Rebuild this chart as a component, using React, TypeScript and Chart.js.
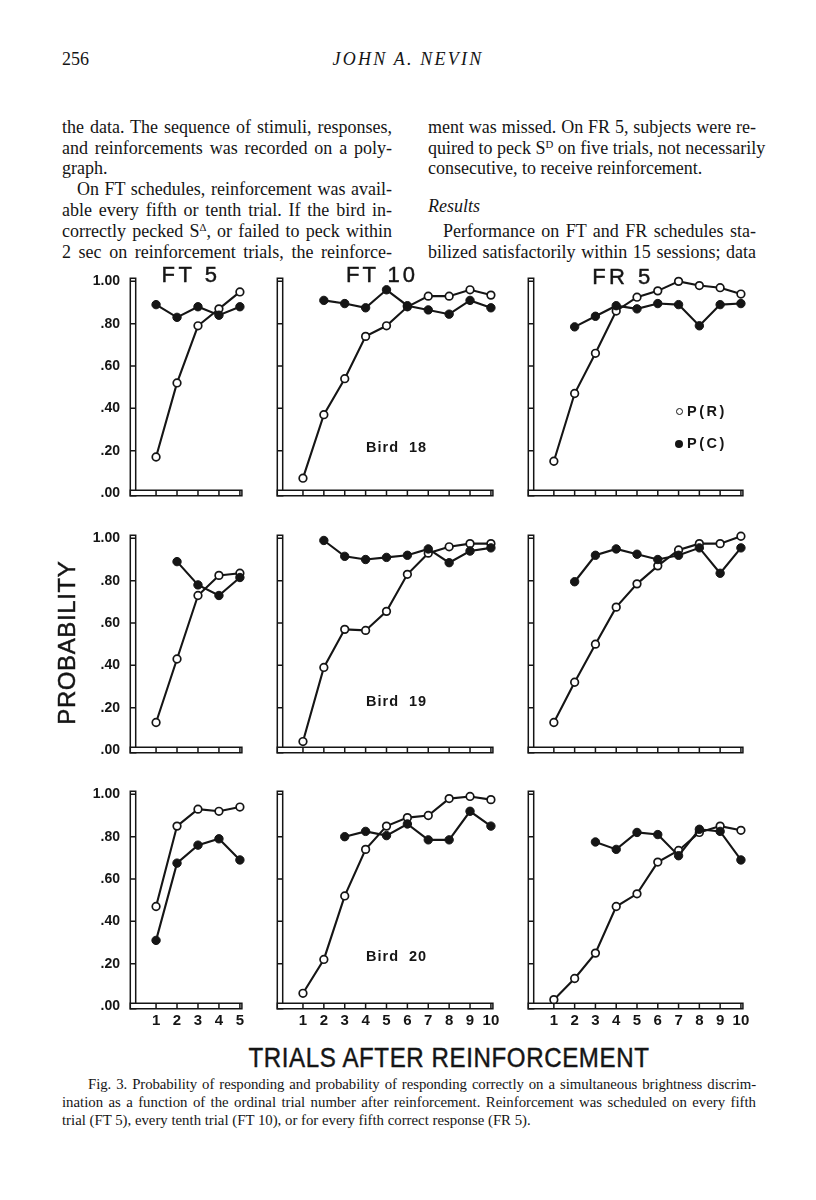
import React, { useEffect, useRef } from 'react';
import { Chart, registerables } from 'chart.js';

Chart.register(...registerables);

// ---------------- DATA ----------------
const trials5 = [1, 2, 3, 4, 5];
const trials10 = [1, 2, 3, 4, 5, 6, 7, 8, 9, 10];
const yTickValues = [0, 0.2, 0.4, 0.6, 0.8, 1.0];
const yTickLabels = ['.00', '.20', '.40', '.60', '.80', '1.00'];
const scheduleTitles = ['FT 5', 'FT 10', 'FR 5'];
const birdLabels = ['Bird 18', 'Bird 19', 'Bird 20'];
const seriesNames = ['P(R)', 'P(C)'];

// Bird 18
const b18_ft5_PR = [0.17, 0.52, 0.79, 0.87, 0.95];
const b18_ft5_PC = [0.89, 0.83, 0.88, 0.84, 0.88];
const b18_ft10_PR = [0.07, 0.37, 0.54, 0.74, 0.79, 0.88, 0.93, 0.93, 0.96, 0.935];
const b18_ft10_PC = [null, 0.91, 0.895, 0.875, 0.96, 0.885, 0.865, 0.845, 0.91, 0.875];
const b18_fr5_PR = [0.15, 0.47, 0.66, 0.86, 0.925, 0.955, 1.0, 0.98, 0.97, 0.94];
const b18_fr5_PC = [null, 0.785, 0.835, 0.885, 0.87, 0.895, 0.89, 0.79, 0.89, 0.895];
// Bird 19
const b19_ft5_PR = [0.13, 0.43, 0.73, 0.825, 0.835];
const b19_ft5_PC = [null, 0.89, 0.78, 0.73, 0.815];
const b19_ft10_PR = [0.04, 0.39, 0.57, 0.565, 0.655, 0.83, 0.93, 0.96, 0.975, 0.975];
const b19_ft10_PC = [null, 0.99, 0.915, 0.9, 0.91, 0.92, 0.95, 0.885, 0.94, 0.955];
const b19_fr5_PR = [0.13, 0.32, 0.5, 0.675, 0.785, 0.87, 0.945, 0.975, 0.975, 1.01];
const b19_fr5_PC = [null, 0.795, 0.92, 0.95, 0.925, 0.9, 0.92, 0.955, 0.835, 0.955];
// Bird 20
const b20_ft5_PR = [0.47, 0.85, 0.93, 0.92, 0.94];
const b20_ft5_PC = [0.31, 0.675, 0.76, 0.79, 0.69];
const b20_ft10_PR = [0.06, 0.22, 0.52, 0.74, 0.85, 0.89, 0.9, 0.98, 0.99, 0.975];
const b20_ft10_PC = [null, null, 0.8, 0.825, 0.805, 0.86, 0.785, 0.785, 0.92, 0.85];
const b20_fr5_PR = [0.03, 0.13, 0.25, 0.47, 0.53, 0.68, 0.735, 0.82, 0.85, 0.83];
const b20_fr5_PC = [null, null, 0.775, 0.74, 0.82, 0.81, 0.71, 0.835, 0.825, 0.69];

type Panel = { row: number; col: number; trials: number[]; pr: (number | null)[]; pc: (number | null)[] };

const panels: Panel[] = [
  { row: 0, col: 0, trials: trials5, pr: b18_ft5_PR, pc: b18_ft5_PC },
  { row: 0, col: 1, trials: trials10, pr: b18_ft10_PR, pc: b18_ft10_PC },
  { row: 0, col: 2, trials: trials10, pr: b18_fr5_PR, pc: b18_fr5_PC },
  { row: 1, col: 0, trials: trials5, pr: b19_ft5_PR, pc: b19_ft5_PC },
  { row: 1, col: 1, trials: trials10, pr: b19_ft10_PR, pc: b19_ft10_PC },
  { row: 1, col: 2, trials: trials10, pr: b19_fr5_PR, pc: b19_fr5_PC },
  { row: 2, col: 0, trials: trials5, pr: b20_ft5_PR, pc: b20_ft5_PC },
  { row: 2, col: 1, trials: trials10, pr: b20_ft10_PR, pc: b20_ft10_PC },
  { row: 2, col: 2, trials: trials10, pr: b20_fr5_PR, pc: b20_fr5_PC },
];

// ---------------- LAYOUT ----------------
const COL_GEOM = [
  { x0: 135, ppu: 21 },
  { x0: 282.4, ppu: 20.9 },
  { x0: 533.5, ppu: 20.8 },
];
const ROW_Y0 = [493, 750, 1006.5];
const PPU_Y = 212;
const Y_MAX = 1.03;
const X_PAD = 0.1;
const YW = 50;
const XH = 30;
const PADT = 12;
const PADR = 16;
const INK = '#151515';
const SANS = '"Liberation Sans", Arial, sans-serif';
const SERIF = '"Liberation Serif", "Times New Roman", serif';

const axisBars = {
  id: 'axisBars',
  beforeDatasetsDraw(chart: any, _args: any, opts: any) {
    const { ctx, chartArea, scales } = chart;
    const x = scales.x;
    const y = scales.y;
    const n = opts.n as number;
    const L = chartArea.left;
    const B = y.getPixelForValue(0);
    const T = y.getPixelForValue(1.015);
    const R = x.getPixelForValue(n) + 2;
    const hw = 2.7;
    ctx.save();
    ctx.lineWidth = 1.5;
    ctx.strokeStyle = INK;
    ctx.fillStyle = '#fff';
    ctx.beginPath();
    ctx.rect(L - hw, T, 2 * hw, B + hw - T);
    ctx.fill();
    ctx.stroke();
    ctx.beginPath();
    ctx.rect(L - hw, B - hw, R - (L - hw), 2 * hw);
    ctx.fill();
    ctx.stroke();
    ctx.beginPath();
    for (const v of yTickValues) {
      if (v === 0) continue;
      const py = y.getPixelForValue(v);
      ctx.moveTo(L - hw, py);
      ctx.lineTo(L + hw, py);
    }
    for (let t = 1; t <= n; t++) {
      const px = x.getPixelForValue(t);
      ctx.moveTo(px, B - hw);
      ctx.lineTo(px, B + hw);
    }
    ctx.stroke();
    ctx.restore();
  },
};

function PanelChart({ panel }: { panel: Panel }) {
  const ref = useRef<HTMLCanvasElement>(null);
  const n = panel.trials.length;
  const g = COL_GEOM[panel.col];
  const plotLeft = Math.round(g.x0 - X_PAD * g.ppu);
  const plotW = Math.round((n + 2 * X_PAD) * g.ppu);
  const plotH = Math.round(Y_MAX * PPU_Y);
  const plotTop = Math.round(ROW_Y0[panel.row] - Y_MAX * PPU_Y);
  const left = plotLeft - YW;
  const top = plotTop - PADT;
  const width = YW + plotW + PADR;
  const height = PADT + plotH + XH;

  useEffect(() => {
    if (!ref.current) return;
    const mk = (vals: (number | null)[]) => panel.trials.map((t, i) => ({ x: t, y: vals[i] }));
    const chart = new Chart(ref.current, {
      type: 'line',
      data: {
        datasets: [
          {
            label: seriesNames[1],
            data: mk(panel.pc) as any,
            borderColor: INK,
            borderWidth: 2.1,
            pointRadius: 4.2,
            pointBackgroundColor: INK,
            pointBorderColor: INK,
            pointBorderWidth: 1,
            tension: 0,
            clip: false as any,
          },
          {
            label: seriesNames[0],
            data: mk(panel.pr) as any,
            borderColor: INK,
            borderWidth: 2.1,
            pointRadius: 3.8,
            pointBackgroundColor: '#fff',
            pointBorderColor: INK,
            pointBorderWidth: 1.7,
            tension: 0,
            clip: false as any,
          },
        ],
      },
      options: {
        responsive: false,
        devicePixelRatio: 1,
        animation: false,
        events: [],
        layout: { padding: { top: PADT, right: PADR, left: 0, bottom: 0 }, autoPadding: false } as any,
        plugins: {
          legend: { display: false },
          tooltip: { enabled: false },
          axisBars: { n },
        } as any,
        scales: {
          x: {
            type: 'linear',
            min: -X_PAD,
            max: n + X_PAD,
            grid: { display: false, drawTicks: false },
            border: { display: false },
            afterBuildTicks: (s: any) => {
              s.ticks = panel.trials.map((v) => ({ value: v }));
            },
            afterFit: (s: any) => {
              s.height = XH;
              s.paddingLeft = 0;
              s.paddingRight = 0;
              s.paddingTop = 0;
              s.paddingBottom = 0;
            },
            ticks: {
              display: panel.row === 2,
              autoSkip: false,
              maxRotation: 0,
              padding: 6,
              color: INK,
              font: { family: SANS, size: 15, weight: 'bold' },
              callback: (v: any) => String(v),
            },
          },
          y: {
            type: 'linear',
            min: 0,
            max: Y_MAX,
            grid: { display: false, drawTicks: false },
            border: { display: false },
            afterBuildTicks: (s: any) => {
              s.ticks = yTickValues.map((v) => ({ value: v }));
            },
            afterFit: (s: any) => {
              s.width = YW;
              s.paddingLeft = 0;
              s.paddingRight = 0;
              s.paddingTop = 0;
              s.paddingBottom = 0;
            },
            ticks: {
              display: panel.col === 0,
              padding: 13,
              color: INK,
              font: { family: SANS, size: 14, weight: 'bold' },
              callback: (_v: any, i: number) => yTickLabels[i],
            },
          },
        } as any,
      },
      plugins: [axisBars as any],
    });
    return () => chart.destroy();
  }, []);

  return (
    <canvas
      ref={ref}
      width={width}
      height={height}
      style={{ position: 'absolute', left, top, width, height }}
    />
  );
}

// ---------------- TEXT ----------------
type TxtProps = {
  x: number;
  base: number;
  fs: number;
  family?: string;
  w?: number;
  align?: 'left' | 'center' | 'justify';
  style?: React.CSSProperties;
  children: React.ReactNode;
};

function Txt({ x, base, fs, family = SERIF, w, align = 'left', style = {}, children }: TxtProps) {
  const top = base - 0.84 * fs;
  const left = align === 'center' && w ? x - w / 2 : x;
  const extra: React.CSSProperties =
    align === 'justify' ? { textAlign: 'justify', textAlignLast: 'justify' as any } : { textAlign: align as any };
  return (
    <div
      style={{
        position: 'absolute',
        left,
        top,
        width: w,
        fontSize: fs,
        lineHeight: `${fs}px`,
        fontFamily: family,
        whiteSpace: 'nowrap',
        color: INK,
        ...extra,
        ...style,
      }}
    >
      {children}
    </div>
  );
}

const Sup = ({ children }: { children: React.ReactNode }) => (
  <span style={{ fontSize: '0.6em', verticalAlign: '0.6em', lineHeight: 0 }}>{children}</span>
);

const LEFT_X = 62;
const RIGHT_X = 428;
const COL_W = 330;
const BODY_FS = 18;
const CAP_FS = 14.8;
const bodyBase = [133, 154, 174.5, 195.5, 216, 237, 258];
const heavy = { WebkitTextStroke: '0.45px #151515' } as React.CSSProperties;

export default function App() {
  return (
    <div
      style={{
        position: 'absolute',
        left: 0,
        top: 0,
        width: 816,
        height: 1200,
        background: '#fff',
        overflow: 'hidden',
      }}
    >
      {/* running head */}
      <Txt x={62} base={65} fs={18}>256</Txt>
      <Txt x={408} base={65} fs={18} w={300} align="center" style={{ fontStyle: 'italic', letterSpacing: 2.2 }}>
        JOHN A. NEVIN
      </Txt>

      {/* left column */}
      <Txt x={LEFT_X} base={bodyBase[0]} fs={BODY_FS} w={COL_W} align="justify">
        the data. The sequence of stimuli, responses,
      </Txt>
      <Txt x={LEFT_X} base={bodyBase[1]} fs={BODY_FS} w={COL_W} align="justify">
        and reinforcements was recorded on a poly-
      </Txt>
      <Txt x={LEFT_X} base={bodyBase[2]} fs={BODY_FS}>graph.</Txt>
      <Txt x={LEFT_X + 15} base={bodyBase[3]} fs={BODY_FS} w={COL_W - 15} align="justify">
        On FT schedules, reinforcement was avail-
      </Txt>
      <Txt x={LEFT_X} base={bodyBase[4]} fs={BODY_FS} w={COL_W} align="justify">
        able every fifth or tenth trial. If the bird in-
      </Txt>
      <Txt x={LEFT_X} base={bodyBase[5]} fs={BODY_FS} w={COL_W} align="justify">
        correctly pecked S<Sup>Δ</Sup>, or failed to peck within
      </Txt>
      <Txt x={LEFT_X} base={bodyBase[6]} fs={BODY_FS} w={COL_W} align="justify">
        2 sec on reinforcement trials, the reinforce-
      </Txt>

      {/* right column */}
      <Txt x={RIGHT_X} base={bodyBase[0]} fs={BODY_FS} w={328} align="justify">
        ment was missed. On FR 5, subjects were re-
      </Txt>
      <Txt x={RIGHT_X} base={bodyBase[1]} fs={BODY_FS} w={328} align="justify">
        quired to peck S<Sup>D</Sup> on five trials, not necessarily
      </Txt>
      <Txt x={RIGHT_X} base={bodyBase[2]} fs={BODY_FS}>consecutive, to receive reinforcement.</Txt>
      <Txt x={RIGHT_X} base={212} fs={BODY_FS} style={{ fontStyle: 'italic' }}>Results</Txt>
      <Txt x={RIGHT_X + 15} base={bodyBase[5]} fs={BODY_FS} w={313} align="justify">
        Performance on FT and FR schedules sta-
      </Txt>
      <Txt x={RIGHT_X} base={bodyBase[6]} fs={BODY_FS} w={328} align="justify">
        bilized satisfactorily within 15 sessions; data
      </Txt>

      {/* charts */}
      {panels.map((p, i) => (
        <PanelChart key={i} panel={p} />
      ))}

      {/* schedule titles */}
      <Txt x={191} base={282} fs={22} family={SANS} w={120} align="center" style={{ letterSpacing: 3.5, ...heavy }}>
        {scheduleTitles[0]}
      </Txt>
      <Txt x={382} base={282} fs={22} family={SANS} w={120} align="center" style={{ letterSpacing: 3, ...heavy }}>
        {scheduleTitles[1]}
      </Txt>
      <Txt x={623} base={284} fs={22} family={SANS} w={120} align="center" style={{ letterSpacing: 3.5, ...heavy }}>
        {scheduleTitles[2]}
      </Txt>

      {/* bird labels */}
      <Txt x={366} base={452} fs={14.5} family={SANS} style={{ fontWeight: 'bold', letterSpacing: 1, whiteSpace: 'pre' }}>
        {birdLabels[0].replace(' ', '  ')}
      </Txt>
      <Txt x={366} base={706.5} fs={14.5} family={SANS} style={{ fontWeight: 'bold', letterSpacing: 1, whiteSpace: 'pre' }}>
        {birdLabels[1].replace(' ', '  ')}
      </Txt>
      <Txt x={366} base={961.5} fs={14.5} family={SANS} style={{ fontWeight: 'bold', letterSpacing: 1, whiteSpace: 'pre' }}>
        {birdLabels[2].replace(' ', '  ')}
      </Txt>

      {/* legend */}
      <div
        style={{
          position: 'absolute',
          left: 675.5,
          top: 407.5,
          width: 7,
          height: 7,
          borderRadius: '50%',
          border: `1.6px solid ${INK}`,
          boxSizing: 'border-box',
          background: '#fff',
        }}
      />
      <Txt x={687} base={416} fs={14.5} family={SANS} style={{ fontWeight: 'bold', letterSpacing: 2.5 }}>
        {seriesNames[0]}
      </Txt>
      <div
        style={{
          position: 'absolute',
          left: 675,
          top: 439.5,
          width: 8,
          height: 8,
          borderRadius: '50%',
          background: INK,
        }}
      />
      <Txt x={687} base={448} fs={14.5} family={SANS} style={{ fontWeight: 'bold', letterSpacing: 2.5 }}>
        {seriesNames[1]}
      </Txt>

      {/* axis titles */}
      <div
        style={{
          position: 'absolute',
          left: 67 - 100,
          top: 643 - 12,
          width: 200,
          height: 24,
          fontSize: 24,
          lineHeight: '24px',
          fontFamily: SANS,
          letterSpacing: 0.6,
          paddingLeft: 0.6,
          boxSizing: 'border-box',
          textAlign: 'center',
          color: INK,
          transform: 'rotate(-90deg)',
          transformOrigin: '50% 50%',
          whiteSpace: 'nowrap',
          ...heavy,
        }}
      >
        PROBABILITY
      </div>
      <Txt
        x={449}
        base={1068}
        fs={28}
        family={SANS}
        w={600}
        align="center"
        style={{ letterSpacing: 0.7, transform: 'scaleX(0.86)', transformOrigin: '50% 50%', ...heavy }}
      >
        TRIALS AFTER REINFORCEMENT
      </Txt>

      {/* caption */}
      <Txt x={88} base={1089} fs={CAP_FS} w={668} align="justify" style={{ letterSpacing: -0.08 }}>
        Fig. 3. Probability of responding and probability of responding correctly on a simultaneous brightness discrim-
      </Txt>
      <Txt x={62} base={1107} fs={CAP_FS} w={694} align="justify">
        ination as a function of the ordinal trial number after reinforcement. Reinforcement was scheduled on every fifth
      </Txt>
      <Txt x={62} base={1125} fs={CAP_FS}>
        trial (FT 5), every tenth trial (FT 10), or for every fifth correct response (FR 5).
      </Txt>
    </div>
  );
}
